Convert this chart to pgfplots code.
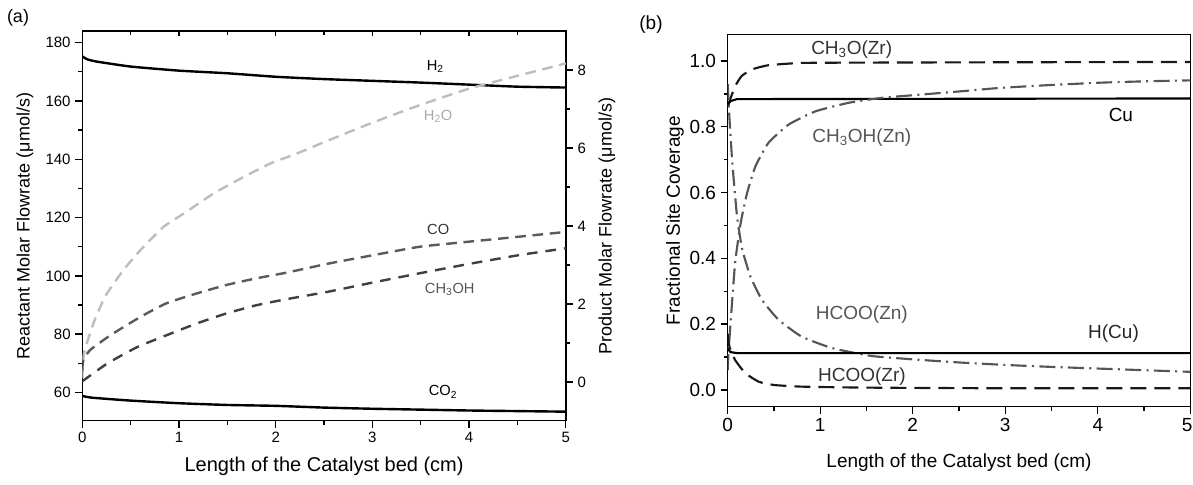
\documentclass[border=0pt]{standalone}
\usepackage{fontspec}
\setmainfont{Liberation Sans}
\usepackage{pgfplots}
\pgfplotsset{compat=1.18}
\definecolor{lgray}{HTML}{BDBDBD}
\definecolor{lgraytxt}{HTML}{A8A8A8}
\definecolor{mgray}{HTML}{5A5A5A}
\definecolor{dgray}{HTML}{404040}
\definecolor{ddgray}{HTML}{333333}
\definecolor{ggray}{HTML}{555555}
\pgfplotsset{
  every axis/.append style={
    scale only axis,
    axis line style={line width=1.1pt},
    every tick/.style={black, line width=1pt},
    major tick length=5.25pt,
    minor tick length=3pt,
    tick align=outside,
    /pgf/number format/assume math mode=true,
  },
}
\begin{document}
\begin{tikzpicture}
% ---------------- Panel (a): reactants, left axis ----------------
\begin{axis}[
  at={(61.73pt,-315.53pt)}, anchor=south west,
  width=362.63pt, height=292.28pt,
  xmin=0, xmax=5, ymin=50.3, ymax=184,
  xtick={0,1,2,3,4,5}, minor x tick num=1,
  ytick={60,80,100,120,140,160,180}, minor y tick num=1,
  xtick pos=left, ytick pos=left,
  ticklabel style={font=\fontsize{11.25}{13}\selectfont},
  xlabel={Length of the Catalyst bed (cm)},
  ylabel={Reactant Molar Flowrate (μmol/s)},
  xlabel style={font=\fontsize{15}{17}\selectfont, at={(axis description cs:0.5,-0.118)}, anchor=center},
  ylabel style={font=\fontsize{13.5}{16}\selectfont, at={(axis description cs:-0.1185,0.5)}, anchor=center},
]
\addplot[black, line width=1.8pt, smooth, tension=0.3] coordinates {
(0,175.3)(0.05,174.3)(0.15,173.5)(0.5,171.8)(1,170.4)(1.5,169.5)(2,168.3)(2.5,167.5)(3,166.9)(3.5,166.3)(4,165.6)(4.5,164.9)(5,164.6)};
\addplot[black, line width=1.8pt, smooth, tension=0.3] coordinates {
(0,58.8)(0.1,58.2)(0.5,57.2)(1,56.3)(1.5,55.7)(2,55.4)(2.5,54.8)(3,54.4)(3.5,54.1)(4,53.8)(4.5,53.6)(5,53.4)};
\node[black, font=\fontsize{11}{13}\selectfont] at (axis cs:3.65,171.8) {H\textsubscript{2}};
\node[lgraytxt, font=\fontsize{11}{13}\selectfont] at (axis cs:3.68,154.6) {H\textsubscript{2}O};
\node[ddgray, font=\fontsize{11}{13}\selectfont] at (axis cs:3.68,116.0) {CO};
\node[ggray, font=\fontsize{11}{13}\selectfont] at (axis cs:3.80,95.4) {CH\textsubscript{3}OH};
\node[black, font=\fontsize{11}{13}\selectfont] at (axis cs:3.73,60.2) {CO\textsubscript{2}};
\end{axis}
% ---------------- Panel (a): products, right axis ----------------
\begin{axis}[
  at={(61.73pt,-315.53pt)}, anchor=south west,
  width=362.63pt, height=292.28pt,
  xmin=0, xmax=5, ymin=-0.99, ymax=9.0,
  axis x line=none, axis y line*=right,
  ytick={0,2,4,6,8}, minor y tick num=1,
  ticklabel style={font=\fontsize{11.25}{13}\selectfont},
  ylabel={Product Molar Flowrate (μmol/s)},
  ylabel style={font=\fontsize{13.5}{16}\selectfont, at={(axis description cs:1.085,0.5)}, anchor=center, rotate=0},
]
\addplot[lgray, line width=1.8pt, dash pattern=on 8pt off 5pt, smooth, tension=0.3] coordinates {
(0,0.1)(0.018,0.74)(0.114,1.5)(0.235,2.19)(0.424,2.87)(0.6,3.38)(0.84,3.98)(1.08,4.37)(1.36,4.84)(1.67,5.26)(1.95,5.61)(2.22,5.86)(2.5,6.15)(2.98,6.63)(3.49,7.1)(4.01,7.53)(4.53,7.87)(5,8.17)};
\addplot[mgray, line width=1.8pt, dash pattern=on 8pt off 5pt, smooth, tension=0.3] coordinates {
(0,0.3)(0.01,0.56)(0.08,0.82)(0.29,1.2)(0.6,1.67)(0.87,2.02)(1.18,2.27)(1.49,2.49)(1.8,2.66)(2.1,2.8)(2.55,3.04)(3.0,3.25)(3.49,3.47)(4.0,3.6)(4.53,3.73)(5,3.85)};
\addplot[dgray, line width=1.8pt, dash pattern=on 8pt off 6pt, smooth, tension=0.3] coordinates {
(0,0.02)(0.26,0.48)(0.57,0.9)(0.87,1.2)(1.18,1.5)(1.49,1.76)(1.8,1.97)(2.1,2.12)(2.55,2.32)(3.0,2.55)(3.49,2.79)(4.0,3.03)(4.53,3.26)(5,3.43)};
\end{axis}
% ---------------- Panel (a): top inward ticks ----------------
\begin{axis}[
  at={(61.73pt,-315.53pt)}, anchor=south west,
  width=362.63pt, height=292.28pt,
  xmin=0, xmax=5, ymin=0, ymax=1,
  axis x line*=top, axis y line=none,
  tick align=inside, major tick length=3.75pt, minor tick length=3pt,
  xtick={0,1,2,3,4,5}, minor x tick num=1, xticklabels={},
]
\addplot[draw=none] coordinates {(0,0)(5,1)};
\end{axis}
% ---------------- Panel (b) ----------------
\begin{axis}[
  at={(545.78pt,-305.03pt)}, anchor=south west,
  width=346.95pt, height=279.3pt,
  xmin=0, xmax=5, ymin=-0.051, ymax=1.081,
  xtick={0,1,2,3,4,5}, minor x tick num=1,
  xticklabels={0,1,2,3,4,\hspace*{-4.6pt}5},
  ytick={0,0.2,0.4,0.6,0.8,1.0}, minor y tick num=1,
  xtick pos=left, ytick pos=left,
  yticklabel style={/pgf/number format/.cd, fixed, fixed zerofill, precision=1},
  ticklabel style={font=\fontsize{14.25}{16}\selectfont},
  xlabel={Length of the Catalyst bed (cm)},
  ylabel={Fractional Site Coverage},
  xlabel style={font=\fontsize{14.25}{16}\selectfont, at={(axis description cs:0.5,-0.151)}, anchor=center},
  ylabel style={font=\fontsize{14.25}{16}\selectfont, at={(axis description cs:-0.114,0.5)}, anchor=center},
]
% CH3O(Zr)
\addplot[black!90, line width=1.6pt, dash pattern=on 12pt off 6pt, smooth, tension=0.3] coordinates {
(0,0.86)(0.02,0.878)(0.08,0.923)(0.15,0.954)(0.26,0.974)(0.44,0.987)(0.8,0.994)(1.5,0.995)(3,0.996)(5,0.997)};
% Cu
\addplot[black, line width=1.6pt] coordinates {
(0,0.868)(0.03,0.878)(0.1,0.884)(5,0.886)};
% CH3OH(Zn)
\addplot[ggray, line width=1.6pt, dash pattern=on 12pt off 4pt on 1.5pt off 4pt, smooth, tension=0.3] coordinates {
(0,0.06)(0.01,0.12)(0.03,0.2)(0.08,0.386)(0.14,0.507)(0.21,0.599)(0.30,0.68)(0.44,0.751)(0.66,0.807)(0.95,0.847)(1.31,0.873)(1.67,0.888)(2.1,0.898)(2.53,0.908)(2.94,0.918)(3.5,0.927)(4.03,0.934)(4.5,0.938)(5,0.941)};
% HCOO(Zn)
\addplot[ggray, line width=1.6pt, dash pattern=on 12pt off 4pt on 1.5pt off 4pt, smooth, tension=0.3] coordinates {
(0,0.93)(0.02,0.82)(0.05,0.69)(0.1,0.53)(0.155,0.43)(0.245,0.345)(0.37,0.274)(0.55,0.213)(0.8,0.162)(1.13,0.127)(1.56,0.103)(2.1,0.091)(2.53,0.083)(3,0.076)(3.5,0.07)(4,0.065)(4.5,0.06)(5,0.055)};
% H(Cu)
\addplot[black, line width=1.6pt] coordinates {
(0,0.125)(0.03,0.115)(0.1,0.112)(5,0.112)};
% HCOO(Zr)
\addplot[black!90, line width=1.6pt, dash pattern=on 12pt off 6pt, smooth, tension=0.3] coordinates {
(0,0.17)(0.02,0.13)(0.08,0.091)(0.19,0.051)(0.335,0.025)(0.5,0.015)(0.8,0.01)(1.5,0.007)(3,0.005)(5,0.005)};
\node[ddgray, font=\fontsize{14.25}{16}\selectfont] at (axis cs:1.34,1.035) {CH\textsubscript{3}O(Zr)};
\node[ggray, font=\fontsize{14.25}{16}\selectfont] at (axis cs:1.45,0.766) {CH\textsubscript{3}OH(Zn)};
\node[ggray, font=\fontsize{14.25}{16}\selectfont] at (axis cs:1.45,0.228) {HCOO(Zn)};
\node[ddgray, font=\fontsize{14.25}{16}\selectfont] at (axis cs:1.45,0.04) {HCOO(Zr)};
\node[black, font=\fontsize{14.25}{16}\selectfont] at (axis cs:4.25,0.837) {Cu};
\node[black!85, font=\fontsize{14.25}{16}\selectfont] at (axis cs:4.17,0.172) {H(Cu)};
\end{axis}
\node[font=\fontsize{13.5}{16}\selectfont] at (13.5pt,-13.5pt) {(a)};
\node[font=\fontsize{14.25}{16}\selectfont] at (488.25pt,-18.75pt) {(b)};
\pgfresetboundingbox
\useasboundingbox (0,0) rectangle (894.75pt,-363.75pt);
\end{tikzpicture}
\end{document}
